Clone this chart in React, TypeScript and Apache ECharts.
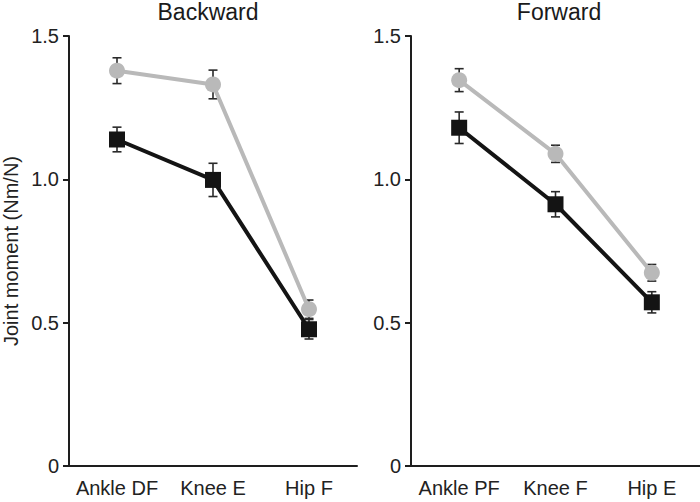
import React, { useEffect, useRef } from "react";
import * as echarts from "echarts";

const backwardCategories = ["Ankle DF", "Knee E", "Hip F"];
const forwardCategories = ["Ankle PF", "Knee F", "Hip E"];
const panelTitles = ["Backward", "Forward"];
const yAxisName = "Joint moment (Nm/N)";

// Backward panel
const backwardGray = [1.379, 1.331, 0.547];
const backwardGrayErr = [0.045, 0.05, 0.032];
const backwardBlack = [1.139, 0.998, 0.477];
const backwardBlackErr = [0.043, 0.058, 0.034];

// Forward panel
const forwardGray = [1.346, 1.089, 0.674];
const forwardGrayErr = [0.04, 0.03, 0.029];
const forwardBlack = [1.18, 0.913, 0.571];
const forwardBlackErr = [0.055, 0.044, 0.037];

const GRAY = "#b9b9b9";
const BLACK = "#141414";
const AXIS = "#1e1e1e";
const FONT = "'Liberation Sans', Arial, sans-serif";

function errorSeries(values: number[], errs: number[], axisIndex: number, z: number) {
  const data = values.map((v, i) => [i, v - errs[i], v + errs[i]]);
  return {
    type: "custom",
    xAxisIndex: axisIndex,
    yAxisIndex: axisIndex,
    z,
    silent: true,
    data,
    renderItem: (params: any, api: any) => {
      const x = api.value(0);
      const lo = api.coord([x, api.value(1)]);
      const hi = api.coord([x, api.value(2)]);
      const cw = 4.5;
      const style = { stroke: "#2a2a2a", lineWidth: 1.6 };
      return {
        type: "group",
        children: [
          { type: "line", shape: { x1: hi[0], y1: hi[1], x2: lo[0], y2: lo[1] }, style },
          { type: "line", shape: { x1: hi[0] - cw, y1: hi[1], x2: hi[0] + cw, y2: hi[1] }, style },
          { type: "line", shape: { x1: lo[0] - cw, y1: lo[1], x2: lo[0] + cw, y2: lo[1] }, style },
        ],
      };
    },
  };
}

function lineSeries(values: number[], axisIndex: number, color: string, symbol: string, z: number) {
  return {
    type: "line",
    xAxisIndex: axisIndex,
    yAxisIndex: axisIndex,
    data: values,
    z,
    symbol,
    symbolSize: 16,
    showSymbol: true,
    lineStyle: { color, width: 4 },
    itemStyle: { color, opacity: 1 },
    emphasis: { disabled: true },
  };
}

function makeXAxis(cats: string[], gridIndex: number) {
  return {
    type: "category",
    gridIndex,
    data: cats,
    boundaryGap: true,
    axisLine: { lineStyle: { color: AXIS, width: 2 } },
    axisTick: { alignWithLabel: true, interval: 0, length: 5, lineStyle: { color: AXIS, width: 2 } },
    axisLabel: { interval: 0, color: "#222", fontSize: 20, fontFamily: FONT, margin: 12 },
  };
}

function makeYAxis(gridIndex: number, withName: boolean) {
  return {
    type: "value",
    gridIndex,
    min: 0,
    max: 1.5,
    interval: 0.5,
    name: withName ? yAxisName : "",
    nameLocation: "middle",
    nameGap: 48,
    nameRotate: 90,
    nameTextStyle: { color: "#222", fontSize: 20, fontFamily: FONT },
    splitLine: { show: false },
    axisLine: { show: true, lineStyle: { color: AXIS, width: 2 } },
    axisTick: { show: true, length: 6, lineStyle: { color: AXIS, width: 2 } },
    axisLabel: {
      color: "#222",
      fontSize: 20,
      fontFamily: FONT,
      margin: 10,
      formatter: (v: number) => (v === 0 ? "0" : v.toFixed(1)),
    },
  };
}

export default function App() {
  const ref = useRef<HTMLDivElement>(null);
  useEffect(() => {
    if (!ref.current) return;
    const chart = echarts.init(ref.current, undefined, { renderer: "svg" });
    const titleStyle = { fontSize: 23, fontWeight: "normal", color: "#1a1a1a", fontFamily: FONT };
    chart.setOption({
      animation: false,
      backgroundColor: "#ffffff",
      title: [
        { text: panelTitles[0], left: 208, top: 0, padding: 0, textAlign: "center", textStyle: titleStyle },
        { text: panelTitles[1], left: 559, top: 0, padding: 0, textAlign: "center", textStyle: titleStyle },
      ],
      grid: [
        { left: 68, right: 343, top: 36, bottom: 36 },
        { left: 411, right: 0, top: 36, bottom: 36 },
      ],
      xAxis: [makeXAxis(backwardCategories, 0), makeXAxis(forwardCategories, 1)],
      yAxis: [makeYAxis(0, true), makeYAxis(1, false)],
      series: [
        errorSeries(backwardGray, backwardGrayErr, 0, 1),
        lineSeries(backwardGray, 0, GRAY, "circle", 2),
        errorSeries(backwardBlack, backwardBlackErr, 0, 3),
        lineSeries(backwardBlack, 0, BLACK, "rect", 4),
        errorSeries(forwardGray, forwardGrayErr, 1, 1),
        lineSeries(forwardGray, 1, GRAY, "circle", 2),
        errorSeries(forwardBlack, forwardBlackErr, 1, 3),
        lineSeries(forwardBlack, 1, BLACK, "rect", 4),
      ],
    });
    return () => chart.dispose();
  }, []);
  return <div ref={ref} style={{ width: 700, height: 502, position: "absolute", left: 0, top: 0 }} />;
}
